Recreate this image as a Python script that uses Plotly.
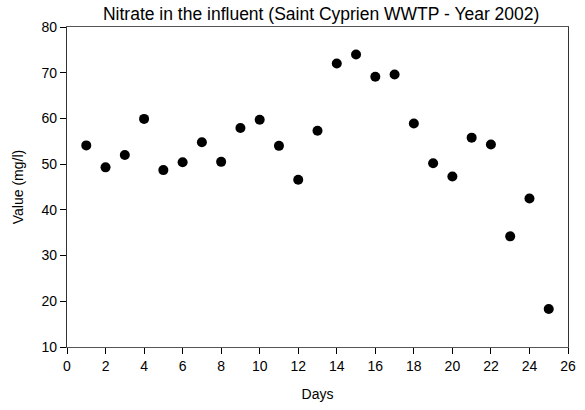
import plotly.graph_objects as go

days = list(range(1, 26))
values = [54.1, 49.3, 52.0, 59.9, 48.7, 50.4, 54.8, 50.5, 57.9, 59.7,
          54.0, 46.6, 57.3, 72.0, 74.0, 69.1, 69.6, 58.9, 50.2, 47.3,
          55.8, 54.3, 34.2, 42.5, 18.3]

x_ticks = list(range(0, 27, 2))
y_ticks = list(range(10, 81, 10))

fig = go.Figure()
fig.add_trace(go.Scatter(
    x=days, y=values, mode="markers",
    marker=dict(color="black", size=10, line=dict(width=0)),
    showlegend=False,
))

axis_font = dict(family="Liberation Sans, Arial", size=14, color="black")

fig.update_layout(
    width=585, height=410,
    margin=dict(l=67, r=17, t=27, b=63),
    paper_bgcolor="white", plot_bgcolor="white",
    title=dict(text="Nitrate in the influent (Saint Cyprien WWTP - Year 2002)",
               font=dict(family="Liberation Sans, Arial", size=17.5, color="black"),
               x=0.549, xanchor="center", y=0.965, yanchor="middle"),
    font=axis_font,
    xaxis=dict(range=[0, 26], tickvals=x_ticks, ticks="outside", ticklen=6,
               tickcolor="black", showline=True, linecolor="#555", linewidth=1.2,
               mirror=True, showgrid=False, zeroline=False, automargin=False,
               title=dict(text="Days", font=axis_font, standoff=16),
               tickfont=axis_font),
    yaxis=dict(range=[10, 80], tickvals=y_ticks, ticks="outside", ticklen=6,
               tickcolor="black", showline=True, linecolor="#333", linewidth=1.2,
               mirror=True, showgrid=False, zeroline=False, automargin=False,
               title=dict(text="Value (mg/l)", font=axis_font, standoff=14),
               tickfont=axis_font),
)

fig.write_html("out.html", config={"displayModeBar": False},
               post_script="document.body.style.margin='0';")
